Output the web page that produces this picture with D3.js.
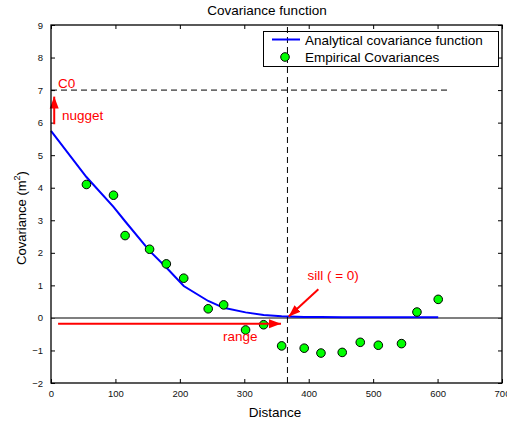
<!DOCTYPE html>
<html>
<head>
<meta charset="utf-8">
<script src="https://cdn.jsdelivr.net/npm/d3@7/dist/d3.min.js"></script>
<style>
  html, body { margin: 0; padding: 0; background: #fff; }
  svg { display: block; font-family: "Liberation Sans", Arial, Helvetica, sans-serif; }
</style>
</head>
<body>
<svg id="chart" width="507" height="426"></svg>
<script>
// lag distances of the empirical covariances
const lags = [55, 97, 115, 153, 179, 206, 244, 268, 302, 330, 358, 393, 419, 452, 480, 508, 544, 568, 601];
const empirical = [4.10, 3.77, 2.53, 2.11, 1.66, 1.22, 0.28, 0.40, -0.37, -0.21, -0.86, -0.93, -1.08, -1.06, -0.75, -0.84, -0.79, 0.18, 0.57];

// analytical model evaluated at 0 and at the lags
const modelX = [0, 55, 97, 115, 153, 179, 206, 244, 268, 302, 330, 358, 393, 419, 452, 480, 508, 544, 568, 601];
const modelY = [5.75, 4.33, 3.41, 2.97, 2.06, 1.55, 0.98, 0.52, 0.31, 0.17, 0.09, 0.05, 0.03, 0.03, 0.02, 0.02, 0.02, 0.02, 0.02, 0.02];

const xTicks = [0, 100, 200, 300, 400, 500, 600, 700];
const yTicks = [-2, -1, 0, 1, 2, 3, 4, 5, 6, 7, 8, 9];

const C0 = 7;          // total covariance
const rangeX = 367;    // range of the model

const svg = d3.select('#chart');
const plotL = 51, plotR = 502, plotT = 25, plotB = 383;

const x = d3.scaleLinear().domain([0, 700]).range([plotL, plotR]);
const y = d3.scaleLinear().domain([-2, 9]).range([plotB, plotT]);

// axes frame with inward ticks
const tickFmt = d => d < 0 ? '\u2212' + Math.abs(d) : d;

svg.append('g')
    .attr('transform', `translate(0,${plotB})`)
    .call(d3.axisBottom(x).tickValues(xTicks).tickSizeInner(-4).tickSizeOuter(0).tickPadding(7).tickFormat(tickFmt))
    .call(g => g.select('.domain').remove());
svg.append('g')
    .attr('transform', `translate(0,${plotT})`)
    .call(d3.axisTop(x).tickValues(xTicks).tickSizeInner(-4).tickSizeOuter(0).tickFormat(''))
    .call(g => g.select('.domain').remove());
svg.append('g')
    .attr('transform', `translate(${plotL},0)`)
    .call(d3.axisLeft(y).tickValues(yTicks).tickSizeInner(-4).tickSizeOuter(0).tickPadding(8).tickFormat(tickFmt))
    .call(g => g.select('.domain').remove());
svg.append('g')
    .attr('transform', `translate(${plotR},0)`)
    .call(d3.axisRight(y).tickValues(yTicks).tickSizeInner(-4).tickSizeOuter(0).tickFormat(''))
    .call(g => g.select('.domain').remove());

svg.selectAll('.tick line').attr('stroke', '#000').attr('stroke-width', 1);
svg.selectAll('.tick text').attr('font-size', '9.5px').attr('fill', '#111')
    .attr('font-family', '"Liberation Sans", Arial, sans-serif');

// zero line
svg.append('line')
    .attr('x1', x(0)).attr('x2', x(700))
    .attr('y1', y(0)).attr('y2', y(0))
    .attr('stroke', '#555').attr('stroke-width', 1.5);

// dashed reference: C0 level
svg.append('line')
    .attr('x1', x(0)).attr('x2', x(620))
    .attr('y1', y(C0)).attr('y2', y(C0))
    .attr('stroke', '#000').attr('stroke-width', 1)
    .attr('stroke-dasharray', '6,4');

// model curve
const line = d3.line().x((d, i) => x(modelX[i])).y(d => y(d));
svg.append('path')
    .datum(modelY)
    .attr('d', line)
    .attr('fill', 'none')
    .attr('stroke', '#0000ff')
    .attr('stroke-width', 2);

// empirical points
svg.append('g').selectAll('circle')
    .data(lags)
    .join('circle')
    .attr('cx', d => x(d))
    .attr('cy', (d, i) => y(empirical[i]))
    .attr('r', 4.3)
    .attr('fill', '#00ff00')
    .attr('stroke', '#000')
    .attr('stroke-width', 1);

// red arrows
const defs = svg.append('defs');
defs.append('marker')
    .attr('id', 'redhead')
    .attr('viewBox', '0 -5 12 10')
    .attr('refX', 12)
    .attr('refY', 0)
    .attr('markerUnits', 'userSpaceOnUse')
    .attr('markerWidth', 12)
    .attr('markerHeight', 10)
    .attr('orient', 'auto')
    .append('path')
    .attr('d', 'M0,-4.5 L12,0 L0,4.5 Z')
    .attr('fill', '#ff0000');

function arrow(x1, y1, x2, y2) {
    svg.append('line')
        .attr('x1', x(x1)).attr('y1', y(y1))
        .attr('x2', x(x2)).attr('y2', y(y2))
        .attr('stroke', '#ff0000')
        .attr('stroke-width', 2)
        .attr('marker-end', 'url(#redhead)');
}
arrow(5, 5.95, 5, 6.8);        // nugget
arrow(11, -0.18, 357, -0.18);  // range
arrow(415, 0.88, 369, 0.04);   // sill

function redText(txt, tx, ty) {
    svg.append('text')
        .attr('x', x(tx)).attr('y', y(ty))
        .attr('fill', '#ff0000')
        .attr('font-size', '13.5px')
        .text(txt);
}
redText('C0', 11, 7.06);
redText('nugget', 17, 6.07);
redText('sill ( = 0)', 398, 1.15);
redText('range', 267, -0.7);

// legend box
const lg = svg.append('g');
lg.append('rect')
    .attr('x', 263.5).attr('y', 31.5)
    .attr('width', 235).attr('height', 35)
    .attr('fill', '#fff')
    .attr('stroke', '#000')
    .attr('stroke-width', 1);

// dashed reference: range (drawn through the legend)
svg.append('line')
    .attr('x1', x(rangeX)).attr('x2', x(rangeX))
    .attr('y1', y(-2)).attr('y2', y(9))
    .attr('stroke', '#000').attr('stroke-width', 1)
    .attr('stroke-dasharray', '6,4');

const lg2 = svg.append('g');
lg2.append('line')
    .attr('x1', 272).attr('x2', 300).attr('y1', 39.5).attr('y2', 39.5)
    .attr('stroke', '#0000ff').attr('stroke-width', 2);
lg2.append('circle')
    .attr('cx', 285).attr('cy', 57).attr('r', 4.3)
    .attr('fill', '#00ff00').attr('stroke', '#000');
lg2.append('text').attr('x', 305).attr('y', 44.5).attr('font-size', '13.5px')
    .text('Analytical covariance function');
lg2.append('text').attr('x', 305).attr('y', 61.5).attr('font-size', '13.5px')
    .text('Empirical Covariances');

// frame
svg.append('rect')
    .attr('x', plotL).attr('y', plotT)
    .attr('width', plotR - plotL).attr('height', plotB - plotT)
    .attr('fill', 'none')
    .attr('stroke', '#000')
    .attr('stroke-width', 1.3);

// titles
svg.append('text')
    .attr('x', 267).attr('y', 15)
    .attr('text-anchor', 'middle')
    .attr('font-size', '13.5px')
    .text('Covariance function');

svg.append('text')
    .attr('x', 275).attr('y', 417)
    .attr('text-anchor', 'middle')
    .attr('font-size', '13.5px')
    .text('Distance');

const yl = svg.append('text')
    .attr('transform', 'translate(26,218) rotate(-90)')
    .attr('text-anchor', 'middle')
    .attr('font-size', '13px');
yl.append('tspan').text('Covariance (m');
yl.append('tspan').attr('font-size', '9px').attr('dy', -6).text('2');
yl.append('tspan').attr('dy', 6).text(')');
</script>
</body>
</html>
